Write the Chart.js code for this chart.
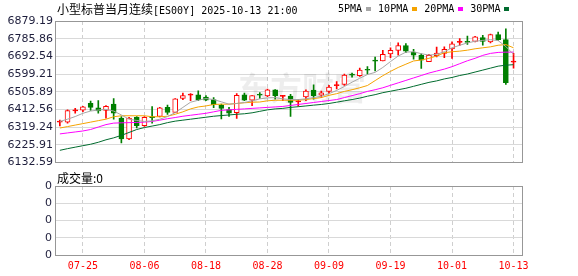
<!DOCTYPE html>
<html>
<head>
<meta charset="utf-8">
<script src="https://cdn.jsdelivr.net/npm/chart.js@4.4.1/dist/chart.umd.min.js"></script>
<style>
html, body { margin: 0; padding: 0; background: #fff; }
#wrap { position: relative; width: 578px; height: 276px; overflow: hidden; }
canvas { position: absolute; left: 0; }
#kline { top: 0; }
#vol { top: 172px; }
.txt { position: absolute; white-space: nowrap; line-height: 12px; color: #000; }
.cjk { font-family: "Noto Sans CJK SC", sans-serif; font-size: 12px; }
.mono { font-family: "DejaVu Sans Mono", monospace; font-size: 10px; }
#legend { left: 338px; top: 3px; font-family: "DejaVu Sans Mono", monospace; font-size: 10px; }
#legend i { display: inline-block; width: 5px; height: 4px; margin: 0 7px 1px 4px; vertical-align: middle; }
</style>
</head>
<body>
<div id="wrap">
  <canvas id="kline" width="578" height="172"></canvas>
  <canvas id="vol" width="578" height="104"></canvas>
  <div class="txt" style="left:57px;top:3px;"><span class="cjk">小型标普当月连续</span><span class="mono">[ES00Y] 2025-10-13 21:00</span></div>
  <div class="txt" id="legend"></div>
  <div class="txt cjk" style="left:57px;top:172px;">成交量:0</div>
</div>
<script>
// trading days shown
const dates = ['07-22','07-23','07-24','07-25','07-28','07-29','07-30','07-31','08-01','08-04',
  '08-05','08-06','08-07','08-08','08-11','08-12','08-13','08-14','08-15','08-18',
  '08-19','08-20','08-21','08-22','08-25','08-26','08-27','08-28','08-29','09-01',
  '09-02','09-03','09-04','09-05','09-08','09-09','09-10','09-11','09-12','09-15',
  '09-16','09-17','09-18','09-19','09-22','09-23','09-24','09-25','09-26','09-29',
  '09-30','10-01','10-02','10-03','10-06','10-07','10-08','10-09','10-10','10-13'];
const xTickLabels = ['07-25','08-06','08-18','08-28','09-09','09-19','10-01','10-13'];

const opens = [6345, 6345, 6405, 6409, 6444, 6421, 6407, 6440, 6366, 6257,
  6371, 6326, 6372, 6375, 6423, 6397, 6471, 6488, 6490, 6478,
  6464, 6435, 6411, 6395, 6490, 6461, 6489, 6484, 6516, 6481,
  6483, 6452, 6478, 6515, 6487, 6508, 6538, 6544, 6595, 6591,
  6621, 6669, 6668, 6706, 6724, 6750, 6715, 6699, 6665, 6696,
  6708, 6732, 6766, 6768, 6772, 6791, 6769, 6807, 6781, 6662];
const highs = [6356, 6410, 6418, 6428, 6457, 6459, 6432, 6469, 6375, 6371,
  6375, 6375, 6427, 6423, 6435, 6470, 6499, 6496, 6510, 6485,
  6475, 6440, 6423, 6496, 6499, 6486, 6501, 6520, 6517, 6487,
  6492, 6464, 6516, 6542, 6509, 6539, 6559, 6599, 6604, 6630,
  6639, 6689, 6724, 6738, 6764, 6760, 6729, 6706, 6703, 6741,
  6743, 6769, 6786, 6800, 6798, 6803, 6810, 6821, 6838, 6708];
const lows = [6325, 6340, 6392, 6400, 6407, 6392, 6366, 6361, 6236, 6253,
  6314, 6323, 6340, 6373, 6386, 6395, 6464, 6458, 6458, 6458,
  6421, 6362, 6375, 6365, 6458, 6432, 6470, 6479, 6466, 6458,
  6375, 6430, 6458, 6466, 6475, 6495, 6521, 6539, 6582, 6587,
  6599, 6616, 6668, 6686, 6699, 6712, 6677, 6629, 6665, 6689,
  6686, 6682, 6750, 6755, 6769, 6751, 6764, 6777, 6544, 6630];
const closes = [6346, 6406, 6407, 6426, 6423, 6404, 6428, 6392, 6257, 6366,
  6326, 6371, 6369, 6421, 6397, 6468, 6485, 6490, 6464, 6461,
  6438, 6418, 6392, 6487, 6461, 6485, 6487, 6516, 6485, 6483,
  6449, 6454, 6509, 6485, 6500, 6530, 6539, 6594, 6593, 6620,
  6619, 6667, 6703, 6724, 6750, 6720, 6699, 6673, 6698, 6710,
  6729, 6758, 6768, 6766, 6795, 6772, 6807, 6781, 6553, 6664];

const ma5 = [6348.8, 6360.7, 6374.7, 6391.8, 6403.8, 6409.0, 6412.6, 6403.8, 6383.0, 6360.7,
  6354.0, 6348.8, 6352.0, 6360.7, 6374.7, 6395.4, 6423.0, 6450.4, 6460.8, 6469.6,
  6464.4, 6452.5, 6440.0, 6443.7, 6448.9, 6457.7, 6468.1, 6473.2, 6474.8, 6468.1,
  6464.4, 6464.4, 6468.1, 6474.8, 6481.5, 6495.5, 6512.6, 6533.4, 6556.2, 6576.9,
  6596.6, 6608.0, 6633.9, 6665.1, 6694.1, 6714.8, 6716.9, 6706.5, 6699.3, 6702.9,
  6716.9, 6737.7, 6751.1, 6763.6, 6771.9, 6777.0, 6780.7, 6775.5, 6744.4, 6702.9];
const ma10 = [6314.1, 6321.8, 6329.6, 6337.4, 6345.2, 6353.0, 6360.7, 6373.7, 6378.9, 6378.9,
  6378.9, 6378.9, 6373.7, 6373.7, 6376.3, 6386.7, 6399.6, 6415.2, 6425.5, 6430.7,
  6438.5, 6440.0, 6440.0, 6443.7, 6447.3, 6450.4, 6451.5, 6457.7, 6460.8, 6460.8,
  6460.8, 6460.8, 6464.4, 6469.6, 6474.8, 6486.7, 6495.5, 6507.5, 6516.3, 6526.6,
  6538.6, 6564.5, 6590.4, 6613.2, 6633.9, 6651.1, 6668.1, 6673.4, 6682.2, 6694.1,
  6711.7, 6716.9, 6720.0, 6725.2, 6732.5, 6737.7, 6742.8, 6751.1, 6754.8, 6737.7];
const ma20 = [6283.0, 6288.2, 6293.3, 6298.5, 6306.3, 6319.3, 6332.2, 6340.0, 6341.6, 6342.6,
  6343.6, 6345.2, 6348.8, 6355.6, 6363.3, 6369.5, 6376.3, 6381.5, 6386.7, 6391.8,
  6399.6, 6407.4, 6410.0, 6412.6, 6415.2, 6417.8, 6420.4, 6423.0, 6425.5, 6428.1,
  6433.3, 6438.5, 6443.7, 6448.9, 6454.1, 6459.2, 6464.4, 6474.8, 6485.2, 6495.5,
  6507.5, 6516.3, 6526.6, 6539.6, 6552.6, 6565.5, 6578.5, 6591.4, 6604.4, 6614.8,
  6625.2, 6638.1, 6653.7, 6669.2, 6682.2, 6697.7, 6708.1, 6713.3, 6714.8, 6714.8];
const ma30 = [6196.4, 6205.2, 6213.0, 6220.8, 6228.5, 6238.9, 6251.9, 6262.2, 6275.2, 6290.7,
  6306.3, 6316.7, 6324.4, 6332.2, 6342.6, 6350.4, 6355.6, 6360.7, 6365.9, 6371.1,
  6376.3, 6379.9, 6383.0, 6386.7, 6389.3, 6394.4, 6402.2, 6410.0, 6415.2, 6417.8,
  6423.0, 6426.6, 6430.7, 6434.9, 6438.5, 6443.7, 6450.4, 6457.7, 6464.4, 6472.2,
  6482.0, 6490.3, 6500.7, 6508.5, 6516.3, 6524.0, 6534.4, 6544.8, 6555.2, 6562.9,
  6573.3, 6581.1, 6591.4, 6599.2, 6609.6, 6619.9, 6630.3, 6640.7, 6645.9, 6648.5];

const volumes = [0, 0, 0, 0, 0, 0, 0, 0, 0, 0, 0, 0, 0, 0, 0, 0, 0, 0, 0, 0,
  0, 0, 0, 0, 0, 0, 0, 0, 0, 0, 0, 0, 0, 0, 0, 0, 0, 0, 0, 0,
  0, 0, 0, 0, 0, 0, 0, 0, 0, 0, 0, 0, 0, 0, 0, 0, 0, 0, 0, 0];

const yTicks = [6879.19, 6785.86, 6692.54, 6599.21, 6505.89, 6412.56, 6319.24, 6225.91, 6132.59];
const volTickLabels = ['0', '0', '0', '0', '0'];

const maLabels = ['5PMA', '10PMA', '20PMA', '30PMA'];
const maColors = ['#a6a6a6', '#f5a300', '#ff00ff', '#006b2e'];
const maSeries = [ma5, ma10, ma20, ma30];

const upColor = '#ff0000';
const downColor = '#007f00';
const gridColor = '#d9d9d9';
const frameColor = '#979797';
const labelColor = '#1e1e3c';

// legend in the header
document.getElementById('legend').innerHTML = maLabels
  .map((l, k) => l + '<i style="background:' + maColors[k] + '"></i>').join('');

const xIdx = xTickLabels.map(l => dates.indexOf(l));
const xMin = -0.5, xMax = dates.length + 0.1;

const candleColor = closes.map((c, i) => c >= opens[i] ? upColor : downColor);
const bodyFill = closes.map((c, i) => {
  if (Math.abs(c - opens[i]) < 4) return candleColor[i]; // doji cross
  return c >= opens[i] ? '#ffffff' : downColor;
});

// draws the grey box around the plot
const framePlugin = {
  id: 'frame',
  afterDraw(chart) {
    const a = chart.chartArea, ctx = chart.ctx;
    ctx.save();
    ctx.strokeStyle = frameColor;
    ctx.lineWidth = 1;
    const x0 = Math.round(a.left) - 0.5, x1 = Math.round(a.right) + 0.5;
    const y0 = Math.round(a.top) + 0.5, y1 = Math.round(a.bottom) + 0.5;
    ctx.strokeRect(x0, y0, x1 - x0, y1 - y0);
    ctx.restore();
  }
};

const watermarkPlugin = {
  id: 'watermark',
  beforeDatasetsDraw(chart) {
    const ctx = chart.ctx;
    ctx.save();
    ctx.font = 'bold 32px "Noto Sans CJK SC"';
    ctx.fillStyle = 'rgba(0,0,0,0.07)';
    ctx.textBaseline = 'middle';
    ctx.fillText('东方财富', 238, 88);
    ctx.restore();
  }
};

const xScale = (showLabels) => ({
  type: 'linear',
  min: xMin,
  max: xMax,
  offset: false,
  afterBuildTicks: s => { s.ticks = xIdx.map(v => ({ value: v })); },
  afterFit: s => { s.height = showLabels ? 21 : 0; },
  ticks: {
    display: showLabels,
    autoSkip: false,
    maxRotation: 0,
    padding: 5,
    color: '#ff0000',
    font: { family: 'DejaVu Sans Mono', size: 10 },
    callback: v => dates[v]
  },
  grid: { color: '#cfcfcf', drawTicks: false, offset: false },
  border: { display: false, dash: [4, 3] }
});

new Chart(document.getElementById('kline'), {
  data: {
    datasets: [
      ...maSeries.map((m, k) => ({
        type: 'line',
        label: maLabels[k],
        data: m.map((v, i) => ({ x: i, y: v })),
        borderColor: maColors[k],
        borderWidth: 1,
        pointRadius: 0,
        tension: 0,
        order: 0
      })),
      {
        type: 'bar',
        label: 'body',
        data: dates.map((d, i) => ({ x: i, y: [opens[i], closes[i]] })),
        backgroundColor: bodyFill,
        borderColor: candleColor,
        borderWidth: 1,
        borderSkipped: false,
        barThickness: 5,
        minBarLength: 1,
        grouped: false,
        order: 1
      },
      {
        type: 'bar',
        label: 'wick',
        data: dates.map((d, i) => ({ x: i, y: [lows[i], highs[i]] })),
        backgroundColor: candleColor,
        borderWidth: 0,
        barThickness: 1,
        grouped: false,
        order: 2
      }
    ]
  },
  options: {
    responsive: false,
    animation: false,
    layout: { padding: { top: 21, right: 56, bottom: 7, left: 0 } },
    plugins: { legend: { display: false }, tooltip: { enabled: false } },
    scales: {
      x: xScale(false),
      y: {
        min: yTicks[yTicks.length - 1],
        max: yTicks[0],
        afterBuildTicks: s => { s.ticks = yTicks.map(v => ({ value: v })); },
        afterFit: s => { s.width = 56; },
        ticks: {
          padding: 3,
          color: labelColor,
          font: { family: 'DejaVu Sans', size: 11 },
          callback: v => v.toFixed(2)
        },
        grid: { color: gridColor, drawTicks: false },
        border: { display: false }
      }
    }
  },
  plugins: [watermarkPlugin, framePlugin]
});

new Chart(document.getElementById('vol'), {
  data: {
    datasets: [{
      type: 'bar',
      label: '成交量',
      data: volumes.map((v, i) => ({ x: i, y: v })),
      backgroundColor: 'rgba(0,0,0,0)',
      borderWidth: 0,
      barThickness: 5
    }]
  },
  options: {
    responsive: false,
    animation: false,
    layout: { padding: { top: 14, right: 56, bottom: 0, left: 0 } },
    plugins: { legend: { display: false }, tooltip: { enabled: false } },
    scales: {
      x: xScale(true),
      y: {
        min: 0,
        max: volTickLabels.length - 1,
        afterBuildTicks: s => { s.ticks = volTickLabels.map((l, i) => ({ value: i })); },
        afterFit: s => { s.width = 56; },
        ticks: {
          padding: 4,
          color: labelColor,
          font: { family: 'DejaVu Sans', size: 11 },
          callback: (v, i) => volTickLabels[i]
        },
        grid: { color: gridColor, drawTicks: false },
        border: { display: false }
      }
    }
  },
  plugins: [framePlugin]
});
</script>
</body>
</html>
